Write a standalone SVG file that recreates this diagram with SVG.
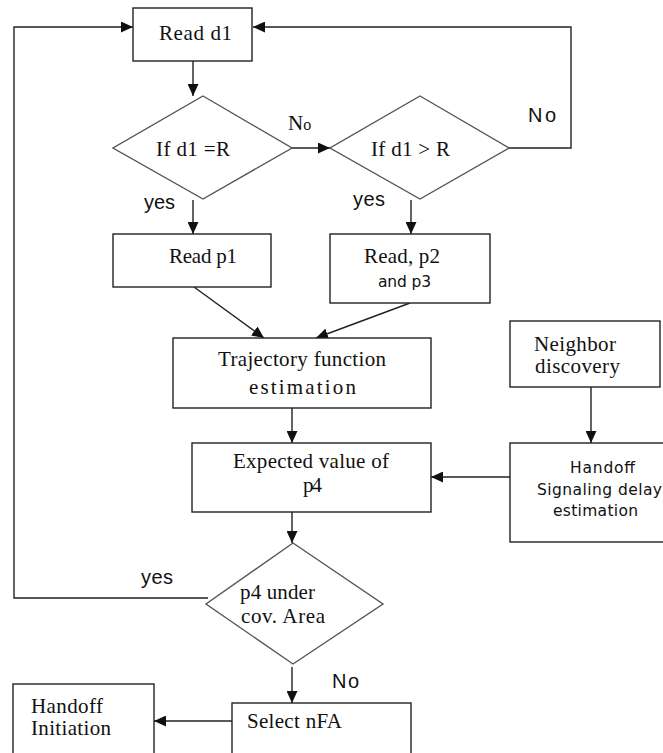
<svg xmlns="http://www.w3.org/2000/svg" width="663" height="753" viewBox="0 0 663 753">
<style>
.box{fill:#fff;stroke:#222;stroke-width:1.4}
.dia{fill:#fff;stroke:#555;stroke-width:1.4}
.ln{fill:none;stroke:#222;stroke-width:1.4}
.ser{font-family:"Liberation Serif","Times New Roman",serif;font-size:21px;fill:#111}
.san{font-family:"DejaVu Sans",Verdana,sans-serif;font-size:15.5px;fill:#111}
.lab{font-family:"Liberation Sans",Arial,sans-serif;font-size:20px;fill:#111}
</style>
<defs>
<marker id="ah" markerUnits="userSpaceOnUse" markerWidth="13" markerHeight="11" refX="12" refY="5.5" orient="auto">
<path d="M0,0 L12,5.5 L0,11 Z" fill="#111"/>
</marker>
</defs>
<rect width="663" height="753" fill="#fff"/>
<g id="connectors">
<line class="ln" x1="193" y1="61" x2="193" y2="96" marker-end="url(#ah)"/>
<line class="ln" x1="292" y1="148" x2="330" y2="148" marker-end="url(#ah)"/>
<polyline class="ln" points="509,148 571,148 571,27 253,27" marker-end="url(#ah)"/>
<polyline class="ln" points="208,598 14,598 14,27 133,27" marker-end="url(#ah)"/>
<line class="ln" x1="193" y1="200" x2="193" y2="234" marker-end="url(#ah)"/>
<line class="ln" x1="411" y1="200" x2="411" y2="234" marker-end="url(#ah)"/>
<line class="ln" x1="194" y1="287" x2="264" y2="338" marker-end="url(#ah)"/>
<line class="ln" x1="410" y1="303" x2="316" y2="338" marker-end="url(#ah)"/>
<line class="ln" x1="292" y1="408" x2="292" y2="443" marker-end="url(#ah)"/>
<line class="ln" x1="591" y1="387" x2="591" y2="443" marker-end="url(#ah)"/>
<line class="ln" x1="510" y1="477" x2="431" y2="477" marker-end="url(#ah)"/>
<line class="ln" x1="292" y1="512" x2="292" y2="543" marker-end="url(#ah)"/>
<line class="ln" x1="292" y1="667" x2="292" y2="703" marker-end="url(#ah)"/>
<line class="ln" x1="232" y1="721" x2="154" y2="721" marker-end="url(#ah)"/>
<text class="lab" x="528" y="122" textLength="28">No</text>
<text class="ser" x="288" y="130">N<tspan font-size="16">o</tspan></text>
<text class="lab" x="144" y="209" textLength="31">yes</text>
<text class="lab" x="353" y="206" textLength="32">yes</text>
<text class="lab" x="141" y="584" textLength="32">yes</text>
<text class="lab" x="332" y="688" textLength="27">No</text>
</g>
<g id="read-d1">
<rect class="box" x="133" y="8" width="119" height="53"/>
<text class="ser" x="159" y="40" textLength="73">Read d1</text>
</g>
<g id="if-d1-eq-r">
<polygon class="dia" points="203,96 292,148 203,199 113,148"/>
<text class="ser" x="156" y="156" textLength="74">If d1 =R</text>
</g>
<g id="if-d1-gt-r">
<polygon class="dia" points="420,96 509,148 420,199 330,148"/>
<text class="ser" x="371" y="156" textLength="79">If d1 &gt; R</text>
</g>
<g id="read-p1">
<rect class="box" x="113" y="234" width="158" height="53"/>
<text class="ser" x="169" y="263" textLength="68">Read p1</text>
</g>
<g id="read-p2-p3">
<rect class="box" x="330" y="234" width="160" height="69"/>
<text class="ser" x="364" y="263" textLength="76">Read, p2</text>
<text class="san" x="378" y="287" textLength="53">and p3</text>
</g>
<g id="trajectory">
<rect class="box" x="173" y="338" width="258" height="70"/>
<text class="ser" x="218" y="366" textLength="168">Trajectory function</text>
<text class="ser" x="249" y="394" textLength="107">estimation</text>
</g>
<g id="neighbor">
<rect class="box" x="510" y="321" width="150" height="66"/>
<text class="ser" x="534" y="351" textLength="82">Neighbor</text>
<text class="ser" x="535" y="373" textLength="85">discovery</text>
</g>
<g id="expected">
<rect class="box" x="192" y="443" width="239" height="69"/>
<text class="ser" x="233" y="468" textLength="156">Expected value of</text>
<text class="ser" x="303" y="492" textLength="19">p4</text>
</g>
<g id="handoff-signaling">
<rect class="box" x="510" y="443" width="170" height="99"/>
<text class="san" x="570" y="473" textLength="65">Handoff</text>
<text class="san" x="537" y="495" textLength="125">Signaling delay</text>
<text class="san" x="553" y="516" textLength="85">estimation</text>
</g>
<g id="p4-under">
<polygon class="dia" points="293,543 383,604 293,664 206,604"/>
<text class="ser" x="240" y="599" textLength="75">p4 under</text>
<text class="ser" x="241" y="623" textLength="84">cov. Area</text>
</g>
<g id="select-nfa">
<rect class="box" x="232" y="703" width="179" height="70"/>
<text class="ser" x="247" y="728" textLength="95">Select nFA</text>
</g>
<g id="handoff-initiation">
<rect class="box" x="13" y="684" width="141" height="90"/>
<text class="ser" x="31" y="713" textLength="72">Handoff</text>
<text class="ser" x="31" y="735" textLength="80">Initiation</text>
</g>
</svg>
